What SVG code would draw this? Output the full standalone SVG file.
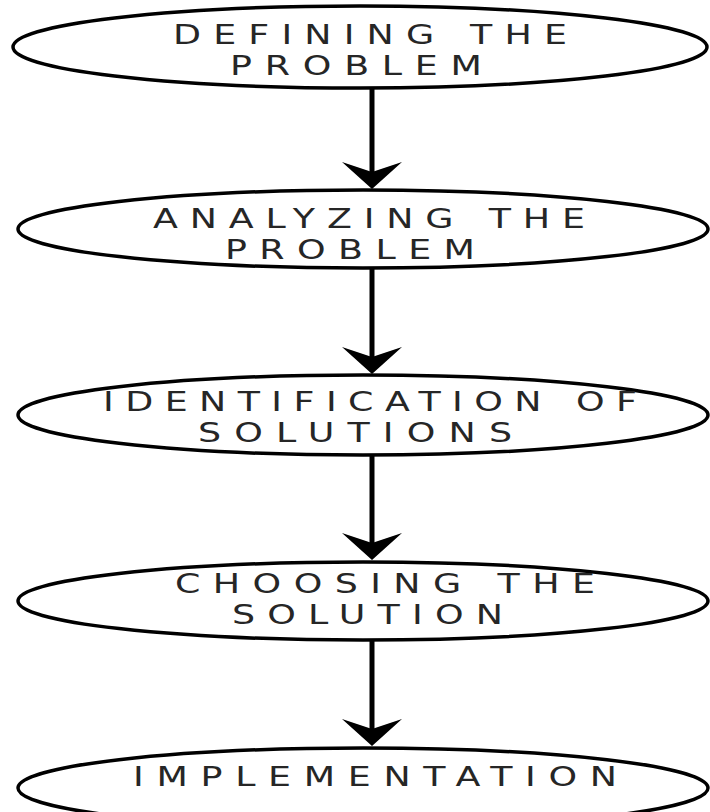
<svg xmlns="http://www.w3.org/2000/svg" width="710" height="812" viewBox="0 0 710 812">
<style>
.node ellipse{fill:#ffffff;stroke:#000;stroke-width:3.5}
.node text{font-family:"DejaVu Sans",Verdana,sans-serif;font-size:26px;fill:#262626;text-anchor:middle}
.conn line{stroke:#000;stroke-width:5}
.conn path{fill:#000}
</style>
<rect width="710" height="812" fill="#fff"/>
<g class="conn">
<line x1="372" y1="88" x2="372" y2="175"/>
<path d="M342,162 L372,172 L402,162 L372,189 Z"/>
<line x1="372" y1="268" x2="372" y2="360"/>
<path d="M342,347 L372,357 L402,347 L372,374 Z"/>
<line x1="372" y1="455" x2="372" y2="546"/>
<path d="M342,533 L372,543 L402,533 L372,560 Z"/>
<line x1="372" y1="640" x2="372" y2="732"/>
<path d="M342,719 L372,729 L402,719 L372,746 Z"/>
</g>
<g id="n1" class="node">
<ellipse cx="360" cy="47" rx="347" ry="41"/>
<g transform="scale(1.4,1)">
<text x="264.3" y="44" textLength="281.4" lengthAdjust="spacing">DEFINING THE</text>
<text x="254.3" y="75" textLength="180" lengthAdjust="spacing">PROBLEM</text>
</g>
</g>
<g id="n2" class="node">
<ellipse cx="363" cy="229" rx="345" ry="39"/>
<g transform="scale(1.4,1)">
<text x="263.6" y="228" textLength="308.6" lengthAdjust="spacing">ANALYZING THE</text>
<text x="250" y="259" textLength="178.6" lengthAdjust="spacing">PROBLEM</text>
</g>
</g>
<g id="n3" class="node">
<ellipse cx="363" cy="415" rx="345" ry="40"/>
<g transform="scale(1.4,1)">
<text x="264.3" y="411" textLength="381.4" lengthAdjust="spacing">IDENTIFICATION OF</text>
<text x="253.6" y="442" textLength="224.3" lengthAdjust="spacing">SOLUTIONS</text>
</g>
</g>
<g id="n4" class="node">
<ellipse cx="363" cy="601" rx="345" ry="39"/>
<g transform="scale(1.4,1)">
<text x="275" y="593" textLength="300" lengthAdjust="spacing">CHOOSING THE</text>
<text x="262.5" y="624" textLength="193.6" lengthAdjust="spacing">SOLUTION</text>
</g>
</g>
<g id="n5" class="node">
<ellipse cx="363" cy="788" rx="345" ry="40"/>
<g transform="scale(1.4,1)">
<text x="267.9" y="786" textLength="345.7" lengthAdjust="spacing">IMPLEMENTATION</text>
</g>
</g>
</svg>
